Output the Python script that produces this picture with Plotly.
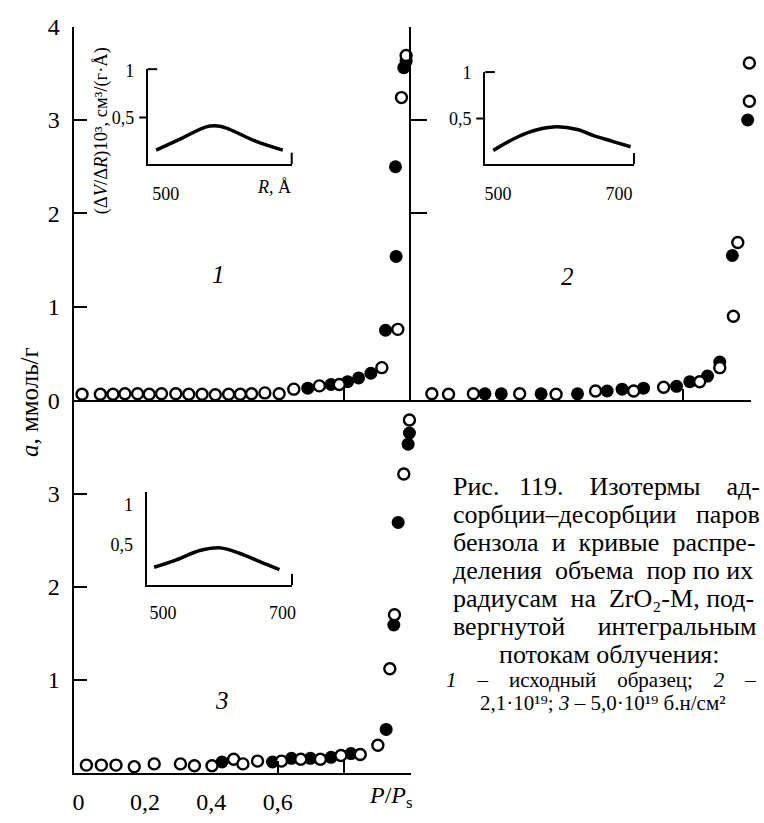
import plotly.graph_objects as go

# ---------------- data ----------------
# Isotherm 1 (original sample): adsorption (open) / desorption (filled)
p1_open_x = [0.011, 0.066, 0.104, 0.140, 0.178, 0.213, 0.250, 0.293, 0.332, 0.372, 0.412,
             0.452, 0.487, 0.521, 0.561, 0.604, 0.648, 0.725, 0.785, 0.913, 0.961, 0.972, 0.986]
p1_open_a = [0.065, 0.065, 0.065, 0.07, 0.07, 0.065, 0.07, 0.07, 0.065, 0.065, 0.06,
             0.065, 0.065, 0.07, 0.08, 0.07, 0.12, 0.155, 0.17, 0.35, 0.76, 3.24, 3.69]
p1_fill_x = [0.690, 0.760, 0.810, 0.843, 0.880, 0.924, 0.956, 0.954, 0.979, 0.986]
p1_fill_a = [0.13, 0.17, 0.20, 0.24, 0.29, 0.75, 1.54, 2.50, 3.56, 3.63]

# Isotherm 2 (2.1e19)
p2_open_x = [0.062, 0.111, 0.184, 0.320, 0.427, 0.543, 0.655, 0.743, 0.849, 0.908, 0.948, 0.961, 0.995, 0.995]
p2_open_a = [0.07, 0.065, 0.07, 0.07, 0.065, 0.10, 0.10, 0.14, 0.20, 0.35, 0.90, 1.69, 3.20, 3.61]
p2_fill_x = [0.218, 0.266, 0.383, 0.490, 0.577, 0.621, 0.684, 0.781, 0.820, 0.872, 0.908, 0.945, 0.990]
p2_fill_a = [0.07, 0.07, 0.07, 0.07, 0.10, 0.12, 0.13, 0.15, 0.20, 0.26, 0.41, 1.55, 3.00]

# Isotherm 3 (5.0e19)
p3_open_x = [0.024, 0.069, 0.113, 0.168, 0.228, 0.307, 0.349, 0.402, 0.467, 0.495, 0.539,
             0.611, 0.669, 0.728, 0.790, 0.848, 0.901, 0.937, 0.951, 0.979, 0.996]
p3_open_a = [0.087, 0.087, 0.087, 0.07, 0.10, 0.10, 0.08, 0.08, 0.15, 0.10, 0.13,
             0.13, 0.15, 0.15, 0.19, 0.20, 0.30, 1.12, 1.70, 3.21, 3.79]
p3_fill_x = [0.432, 0.584, 0.641, 0.698, 0.760, 0.820, 0.926, 0.949, 0.962, 0.992, 0.996]
p3_fill_a = [0.12, 0.12, 0.16, 0.16, 0.17, 0.21, 0.47, 1.59, 2.69, 3.53, 3.65]

# Pore volume distributions over radius (insets)
r1 = [484, 525, 568, 587, 601, 650, 697]
dv1 = [0.15, 0.27, 0.40, 0.41, 0.39, 0.25, 0.15]
r2 = [492, 533, 566, 598, 631, 659, 689, 719]
dv2 = [0.15, 0.30, 0.38, 0.41, 0.38, 0.31, 0.25, 0.19]
r3 = [485, 518, 563, 596, 629, 668, 695]
dv3 = [0.22, 0.30, 0.43, 0.46, 0.39, 0.27, 0.19]

main_y_ticks = [0, 1, 2, 3, 4]
main_y_text = ["0", "1", "2", "3", "4"]
pp_ticks = [0, 0.2, 0.4, 0.6]
pp_text = ["0", "0,2", "0,4", "0,6"]

NB = "\u00a0"
caption = [
    f"Рис.{NB*3}119.{NB*4}Изотермы{NB*4}ад-",
    f"сорбции–десорбции{NB*3}паров",
    f"бензола{NB*2}и{NB*2}кривые{NB*2}распре-",
    f"деления{NB*2}объема{NB*2}пор по их",
    f"радиусам{NB*2}на{NB*2}ZrO₂-M, под-",
    f"вергнутой{NB*5}интегральным",
]
caption_center = "потокам облучения:"
note1 = f"<i>1</i>{NB*4}–{NB*4}исходный{NB*4}образец;{NB*4}<i>2</i>{NB*4}–"
note2 = "2,1·10¹⁹; <i>3</i> – 5,0·10¹⁹ б.н/см²"

# ---------------- geometry helpers ----------------
W, H = 764, 823
FONT = "Liberation Serif"


def px(x):
    return x / W


def py(y):
    return 1 - y / H


fig = go.Figure()

open_marker = dict(symbol="circle", size=11, color="white", line=dict(color="black", width=2.4))
fill_marker = dict(symbol="circle", size=13, color="black", line=dict(color="black", width=0))

for xs, ys, xo, yo, xa, ya in [
    (p1_fill_x, p1_fill_a, p1_open_x, p1_open_a, "x", "y"),
    (p2_fill_x, p2_fill_a, p2_open_x, p2_open_a, "x2", "y2"),
    (p3_fill_x, p3_fill_a, p3_open_x, p3_open_a, "x3", "y3"),
]:
    fig.add_trace(go.Scatter(x=xs, y=ys, mode="markers", marker=fill_marker,
                             xaxis=xa, yaxis=ya, cliponaxis=False, showlegend=False))
    fig.add_trace(go.Scatter(x=xo, y=yo, mode="markers", marker=open_marker,
                             xaxis=xa, yaxis=ya, cliponaxis=False, showlegend=False))

for r, dv, xa, ya in [(r1, dv1, "x4", "y4"), (r2, dv2, "x5", "y5"), (r3, dv3, "x6", "y6")]:
    fig.add_trace(go.Scatter(x=r, y=dv, mode="lines", line=dict(color="black", width=3.5, shape="spline"),
                             xaxis=xa, yaxis=ya, showlegend=False))

# empty trace so the label-only overlay axis of panel 3 is drawn
fig.add_trace(go.Scatter(x=[], y=[], xaxis="x7", yaxis="y3", showlegend=False))

tick_font = dict(family=FONT, size=24, color="black")
axis_common = dict(showgrid=False, zeroline=False, linecolor="black", linewidth=2,
                   tickcolor="black", tickwidth=2, tickfont=tick_font)

dom_x_left = [px(73), px(412)]
dom_x_right = [px(412), px(755)]
dom_y_top = [py(400), py(14)]
dom_y_bot = [py(785), py(400)]

ins_font = dict(family=FONT, size=18, color="black")
ins_common = dict(showgrid=False, zeroline=False, linecolor="black", linewidth=2,
                  tickcolor="black", tickwidth=2, tickfont=ins_font, ticks="")

fig.update_layout(
    width=W, height=H, margin=dict(l=0, r=0, t=0, b=0),
    paper_bgcolor="white", plot_bgcolor="rgba(0,0,0,0)",
    xaxis=dict(axis_common, domain=dom_x_left, range=[-0.012, 1.0], anchor="y",
               showline=True, tickvals=[0.8], ticks="inside", ticklen=12, showticklabels=False),
    yaxis=dict(axis_common, domain=dom_y_top, range=[0, 4], anchor="x",
               showline=True, tickvals=main_y_ticks, ticktext=main_y_text,
               ticks="inside", ticklen=13, ticklabelstandoff=8),
    xaxis2=dict(axis_common, domain=dom_x_right, range=[0, 1.0], anchor="y2",
                showline=True, tickvals=[0.8, 1.0], ticks="inside", ticklen=11, showticklabels=False),
    yaxis2=dict(axis_common, domain=dom_y_top, range=[0, 4], anchor="x2",
                showline=True, tickvals=[2, 3, 4], ticks="inside", ticklen=16, showticklabels=False),
    xaxis3=dict(axis_common, domain=dom_x_left, range=[-0.012, 1.0], anchor="y3",
                showline=True, tickvals=[0.6, 0.8, 1.0], ticks="inside", ticklen=12, showticklabels=False),
    yaxis3=dict(axis_common, domain=dom_y_bot, range=[0, 4], anchor="x3",
                showline=True, tickvals=[1, 2, 3], ticktext=["1", "2", "3"],
                ticks="inside", ticklen=13, ticklabelstandoff=8),
    xaxis7=dict(axis_common, overlaying="x3", anchor="y3", range=[-0.012, 1.0], showline=False,
                tickvals=pp_ticks, ticktext=pp_text, ticks="", ticklabelstandoff=12),
    # insets
    xaxis4=dict(ins_common, domain=[px(147), px(292)], range=[470, 712], anchor="y4",
                showline=True, tickvals=[500], ticktext=["500"], ticklabelstandoff=12),
    yaxis4=dict(ins_common, domain=[py(156), py(58)], range=[0, 1.02], anchor="x4",
                showline=True, tickvals=[0.5, 1], ticktext=["0,5", "1"], ticklabelstandoff=8),
    xaxis5=dict(ins_common, domain=[px(487), px(637)], range=[478.7, 724.6], anchor="y5",
                showline=True, tickvals=[500, 700], ticktext=["500", "700"], ticklabelstandoff=12),
    yaxis5=dict(ins_common, domain=[py(156), py(61)], range=[0, 1.01], anchor="x5",
                showline=True, tickvals=[0.5, 1], ticktext=["0,5", "1"], ticklabelstandoff=8),
    xaxis6=dict(ins_common, domain=[px(145.7), px(292.3)], range=[472.4, 716], anchor="y6",
                showline=True, tickvals=[500, 700], ticktext=["500", "700"], ticklabelstandoff=10),
    yaxis6=dict(ins_common, domain=[py(590.7), py(495)], range=[0, 1.147], anchor="x6",
                showline=True, tickvals=[0.5, 1], ticktext=["0,5", "1"], ticklabelstandoff=8),
)

shapes = []
# inset brackets: top tick pointing right, tick at 0.5 pointing left, end tick on the R axis
for xa, ya in [("x4", "y4"), ("x5", "y5")]:
    shapes.append(dict(type="line", xref=f"{xa} domain", yref=f"{ya} domain",
                       x0=0, x1=0.065, y0=1, y1=1, line=dict(color="black", width=2)))
    shapes.append(dict(type="line", xref=f"{xa} domain", yref=ya,
                       x0=-0.06, x1=0, y0=0.5, y1=0.5, line=dict(color="black", width=2)))
for xa, ya in [("x4", "y4"), ("x5", "y5"), ("x6", "y6")]:
    shapes.append(dict(type="line", xref=f"{xa} domain", yref=f"{ya} domain",
                       x0=1, x1=1, y0=0, y1=0.12, line=dict(color="black", width=2)))
fig.update_layout(shapes=shapes)

ann = []
ann.append(dict(text="<i>a</i>, ммоль/г", xref="paper", yref="paper", x=px(28), y=py(402),
                xanchor="center", yanchor="middle", textangle=-90, showarrow=False,
                font=dict(family=FONT, size=25, color="black")))
ann.append(dict(text="(Δ<i>V</i>/Δ<i>R</i>)10³, см³/(г·Å)", xref="paper", yref="paper",
                x=px(100), y=py(122), xanchor="center", yanchor="middle", textangle=-90, showarrow=False,
                font=dict(family=FONT, size=18.5, color="black")))
ann.append(dict(text="<i>R</i>, Å", xref="x4", yref="paper", x=683, y=py(180), xanchor="center",
                yanchor="middle", showarrow=False, font=ins_font))
ann.append(dict(text="<i>P</i>/<i>P</i><sub>s</sub>", xref="x3", yref="paper", x=0.94, y=py(810),
                xanchor="center", yanchor="middle", showarrow=False, font=tick_font))
for t, xa, ya, xv, yv in [("1", "x", "y", 0.421, 1.35), ("2", "x2", "y2", 0.461, 1.33),
                          ("3", "x3", "y3", 0.433, 0.78)]:
    ann.append(dict(text=f"<i>{t}</i>", xref=xa, yref=ya, x=xv, y=yv, xanchor="center", yanchor="middle",
                    showarrow=False, font=dict(family=FONT, size=25, color="black")))

cap_font = dict(family=FONT, size=26, color="black")
cap_y = [489, 518, 547, 576, 605, 634]
for line, yy in zip(caption, cap_y):
    ann.append(dict(text=line, xref="paper", yref="paper", x=px(453), y=py(yy), xanchor="left",
                    yanchor="middle", showarrow=False, font=cap_font))
ann.append(dict(text=caption_center, xref="paper", yref="paper", x=px(612), y=py(662),
                xanchor="center", yanchor="middle", showarrow=False, font=cap_font))
note_font = dict(family=FONT, size=21, color="black")
ann.append(dict(text=note1, xref="paper", yref="paper", x=px(446), y=py(689), xanchor="left",
                yanchor="middle", showarrow=False, font=note_font))
ann.append(dict(text=note2, xref="paper", yref="paper", x=px(605), y=py(713),
                xanchor="center", yanchor="middle", showarrow=False, font=note_font))
fig.update_layout(annotations=ann)

fig.write_html("out.html")
